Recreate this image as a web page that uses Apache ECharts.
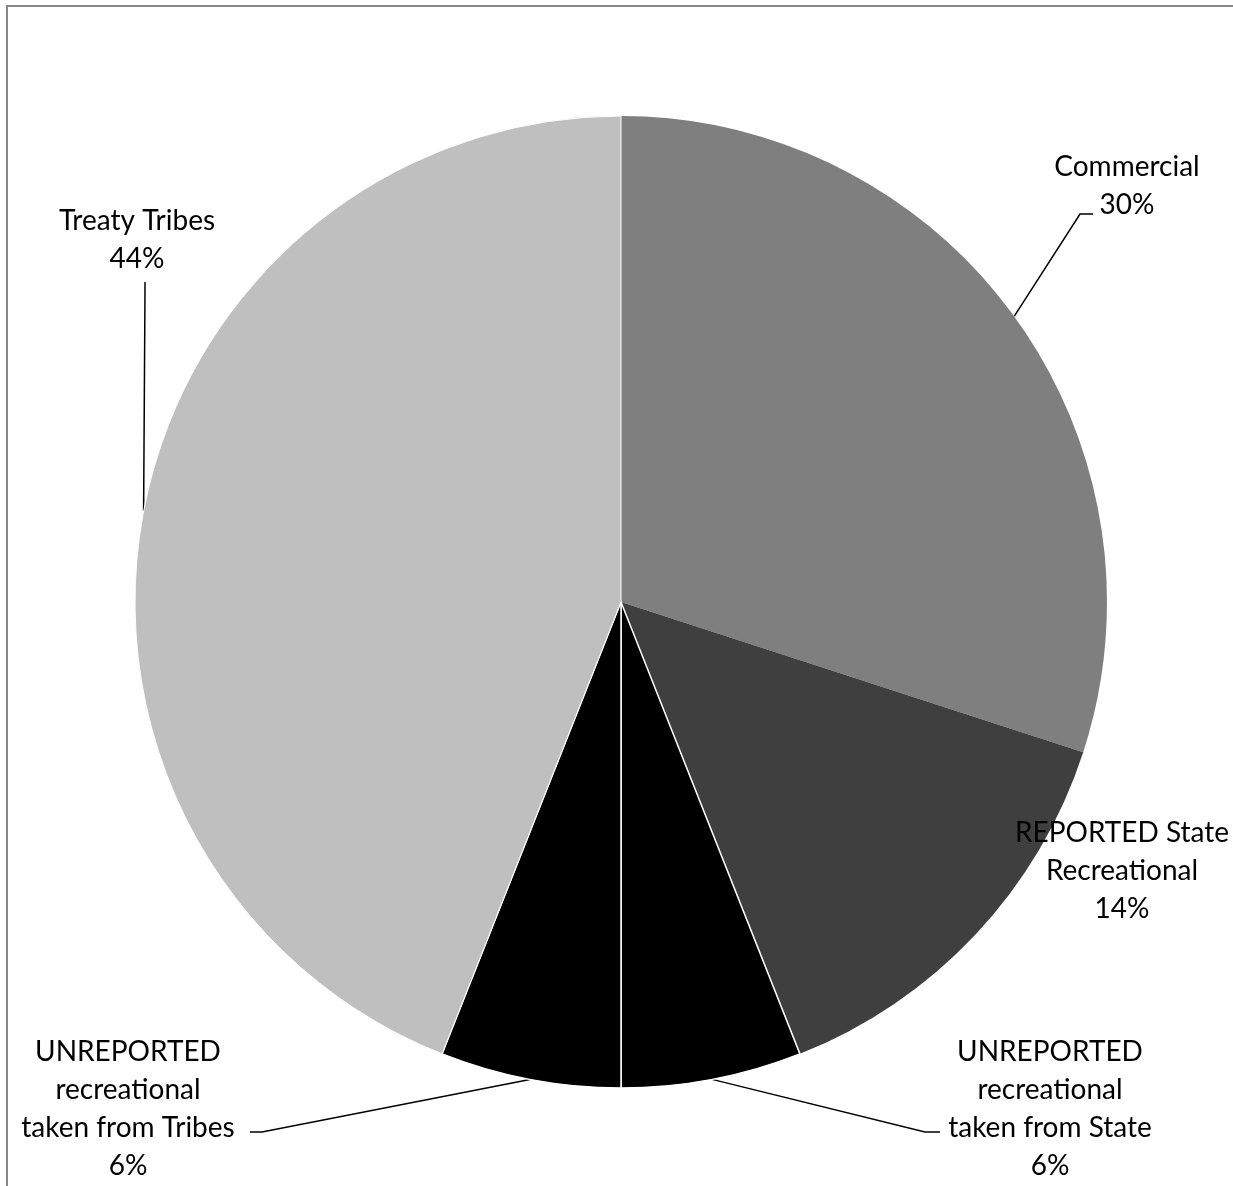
<!DOCTYPE html>
<html>
<head>
<meta charset="utf-8">
<script src="https://cdn.jsdelivr.net/npm/echarts@6/dist/echarts.min.js"></script>
<style>
  html, body { margin: 0; padding: 0; background: #ffffff; }
  #chart { width: 1233px; height: 1186px; }
</style>
</head>
<body>
<div id="chart"></div>
<script>
// Harvest shares by group, clockwise from 12 o'clock
const categories = [
  'Commercial',
  'REPORTED State\nRecreational',
  'UNREPORTED\nrecreational\ntaken from State',
  'UNREPORTED\nrecreational\ntaken from Tribes',
  'Treaty Tribes'
];
const shares = [30, 14, 6, 6, 44];
const sliceColors = ['#7f7f7f', '#3f3f3f', '#000000', '#000000', '#bfbfbf'];
const sliceBorders = [0, 0, 1.5, 1.5, 1];

// Pie geometry
const CX = 621, CY = 602, R = 486;

// Label block centres and leader-line bends (null = no leader)
const labelSpots = [
  { x: 1127, y: 186, bend: [[1080, 214], [1093, 214]] },
  { x: 1122, y: 871, bend: null },
  { x: 1050, y: 1109, bend: [[925, 1132], [940, 1132]] },
  { x: 128,  y: 1109, bend: [[262, 1132], [250, 1132]] },
  { x: 137,  y: 240,  bend: [[145, 290], [145, 282]] }
];

// Point on the rim at the middle angle of each slice
const total = shares.reduce((a, b) => a + b, 0);
let acc = 0;
const rimPoints = shares.map(v => {
  const mid = (acc + v / 2) / total * 2 * Math.PI;
  acc += v;
  return [CX + R * Math.sin(mid), CY - R * Math.cos(mid)];
});

const chart = echarts.init(document.getElementById('chart'));

chart.setOption({
  animation: false,
  backgroundColor: '#ffffff',
  graphic: [{
    type: 'rect',
    shape: { x: 7, y: 6, width: 1400, height: 1400 },
    style: { fill: 'none', stroke: '#878787', lineWidth: 2 },
    silent: true
  }],
  series: [{
    type: 'pie',
    center: [CX, CY],
    radius: R,
    startAngle: 90,
    clockwise: true,
    avoidLabelOverlap: false,
    emphasis: { disabled: true },
    label: {
      show: true,
      position: 'outside',
      formatter: '{b}\n{c}%',
      color: '#000000',
      fontFamily: 'Lato',
      fontSize: 28,
      lineHeight: 38,
      align: 'center'
    },
    labelLine: {
      show: true,
      lineStyle: { color: '#000000', width: 1.5 }
    },
    labelLayout: function (p) {
      const s = labelSpots[p.dataIndex];
      const out = { x: s.x, y: s.y, align: 'center', verticalAlign: 'middle' };
      if (s.bend) {
        out.labelLinePoints = [rimPoints[p.dataIndex], s.bend[0], s.bend[1]];
      }
      return out;
    },
    data: categories.map((name, i) => ({
      name: name,
      value: shares[i],
      itemStyle: {
        color: sliceColors[i],
        borderColor: '#ffffff',
        borderWidth: sliceBorders[i]
      },
      labelLine: { show: labelSpots[i].bend !== null }
    }))
  }]
});
</script>
</body>
</html>
